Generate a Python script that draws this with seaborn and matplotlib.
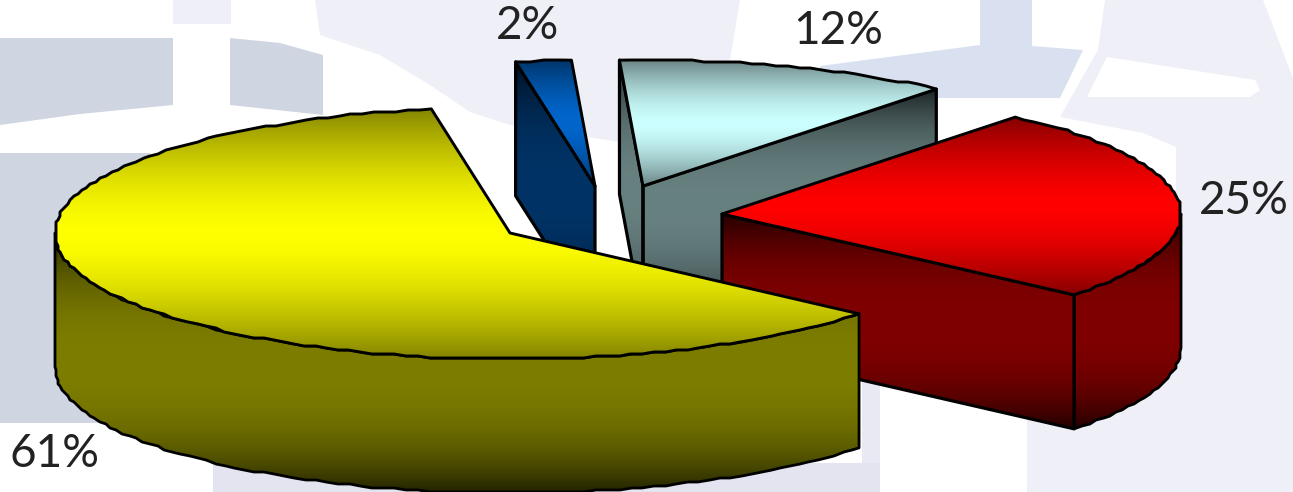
import numpy as np
import matplotlib
matplotlib.use("Agg")
import matplotlib.pyplot as plt
import seaborn as sns
from matplotlib.patches import Polygon

sns.set_theme(style="white")
plt.rcParams["font.family"] = ["Lato", "DejaVu Sans"]

# --------------------------------------------------------------
# Data
# --------------------------------------------------------------
shares = [25.05, 11.85, 1.95, 61.15]  # red, teal, blue, yellow
base_colors = ["#ff0000", "#ccffff", "#0066cc", "#ffff00"]
side_colors = ["#800000", "#678080", "#003366", "#7d7d00"]

# --------------------------------------------------------------
# Layout of the exploded pie, in pixels of the picture
# --------------------------------------------------------------
centers = [(722, 214), (643, 186), (595, 186), (510, 233)]
radii_x = [459, 459, 459, 455]
radius_y = 126
depth = 134
start_angle = -39.9
label_pos = [(1244, 201), (838, 31), (527, 26), (55, 454)]

fig, ax = plt.subplots(figsize=(12.93, 4.92), dpi=100)
fig.subplots_adjust(0, 0, 1, 1)
ax.set_axis_off()

# --------------------------------------------------------------
# Washed out background picture
# --------------------------------------------------------------
lavender = "#efeff8"
grey = "#cfd6e2"
blue = "#d9e1f0"
background = [
    (lavender, [(315, 0), (320, 35), (380, 55), (430, 85), (470, 112), (510, 125), (620, 142), (700, 120), (730, 60), (740, 0)]),
    (lavender, [(1105, 0), (1263, 0), (1293, 78), (1293, 492), (1027, 492), (1027, 380), (1176, 250), (1176, 147), (1143, 133), (1060, 117), (1098, 50)]),
    (lavender, [(173, 0), (231, 0), (231, 24), (173, 24)]),
    ("#ffffff", [(1107, 57), (1255, 80), (1260, 90), (1250, 97), (1087, 97)]),
    ("#e4e4f0", [(213, 463), (880, 463), (880, 492), (213, 492)]),
    ("#e9e9f4", [(862, 370), (880, 370), (880, 463), (862, 463)]),
    (grey, [(0, 38), (173, 38), (173, 105), (80, 114), (0, 125)]),
    (grey, [(230, 38), (280, 43), (323, 55), (323, 115), (230, 105)]),
    (grey, [(0, 153), (150, 153), (150, 423), (0, 423)]),
    (blue, [(980, 0), (1032, 0), (1032, 46), (1083, 50), (1060, 98), (820, 98), (820, 66), (980, 45)]),
]
for color, corners in background:
    ax.add_patch(Polygon(corners, closed=True, facecolor=color, edgecolor="none", zorder=0))


def ellipse_arc(center, radius_x, t0, t1, drop=0):
    # points along the outer edge, lightly snapped to a grid like the blocky original
    steps = max(int(abs(t1 - t0) / 1.5), 2)
    t = np.radians(np.linspace(t0, t1, steps + 1))
    x = center[0] + radius_x * np.cos(t)
    y = center[1] - radius_y * np.sin(t) + drop
    x[1:-1] = np.round(x[1:-1] / 2) * 2
    y[1:-1] = np.round(y[1:-1] / 2) * 2
    return np.column_stack([x, y])


def shaded_face(points, cmap, zorder, lw=2.3):
    # vertical gradient clipped to the face, black outline on top
    outline = Polygon(points, closed=True, facecolor="none", edgecolor="black",
                      linewidth=lw, joinstyle="round", zorder=zorder + 0.5)
    ax.add_patch(outline)
    left, right = points[:, 0].min(), points[:, 0].max()
    top, bottom = points[:, 1].min(), points[:, 1].max()
    ramp = np.linspace(0, 1, 256).reshape(-1, 1)
    image = ax.imshow(ramp, cmap=cmap, extent=[left, right, bottom, top],
                      aspect="auto", vmin=0, vmax=1, zorder=zorder)
    clip = Polygon(points, closed=True, transform=ax.transData)
    image.set_clip_path(clip)


def shade_cmap(color, darkening, power):
    # dark at both ends of the face, full colour in the middle
    f = np.linspace(0, 1, 33)
    factors = 1 - darkening * np.abs(2 * f - 1) ** power
    rgb = np.array(matplotlib.colors.to_rgb(color))
    return sns.blend_palette([tuple(rgb * k) for k in factors], n_colors=256, as_cmap=True)


# --------------------------------------------------------------
# Slices: back ones first, the big yellow one last
# --------------------------------------------------------------
angles = start_angle + np.concatenate([[0], np.cumsum(shares)]) * 3.6
draw_order = [1, 2, 0, 3]

for level, i in enumerate(draw_order):
    t0, t1 = angles[i], angles[i + 1]
    center = np.array(centers[i], dtype=float)
    rx = radii_x[i]
    zorder = 2 + level * 2

    top_cmap = shade_cmap(base_colors[i], 0.48, 1.6)
    side_cmap = shade_cmap(side_colors[i], 0.72, 2.4)

    edge0 = ellipse_arc(center, rx, t0, t0 + 1)[0]
    edge1 = ellipse_arc(center, rx, t1 - 1, t1)[-1]
    down = np.array([0, depth])

    # flat cut faces, only those turned to the viewer
    if np.cos(np.radians(t0)) > 0:
        shaded_face(np.array([center, edge0, edge0 + down, center + down]), side_cmap, zorder)
    if np.cos(np.radians(t1)) < 0:
        shaded_face(np.array([center, edge1, edge1 + down, center + down]), side_cmap, zorder)

    # outer rim, front half of the ellipse only
    for low, high in [(-180, 0), (180, 360)]:
        r0, r1 = max(t0, low), min(t1, high)
        if r1 > r0:
            upper = ellipse_arc(center, rx, r0, r1)
            lower = ellipse_arc(center, rx, r0, r1, drop=depth)
            shaded_face(np.vstack([upper, lower[::-1]]), side_cmap, zorder, lw=2.0)

    # top face
    arc = ellipse_arc(center, rx, t0, t1)
    shaded_face(np.vstack([center, arc]), top_cmap, zorder + 1, lw=2.1)

# --------------------------------------------------------------
# Labels
# --------------------------------------------------------------
for share, (x, y) in zip(shares, label_pos):
    ax.text(x, y, f"{share:.0f}%", fontsize=33, fontweight="normal", color="#222222",
            ha="center", va="center", zorder=20)

ax.set_xlim(0, 1293)
ax.set_ylim(492, 0)
fig.savefig("out.png", dpi=100)
